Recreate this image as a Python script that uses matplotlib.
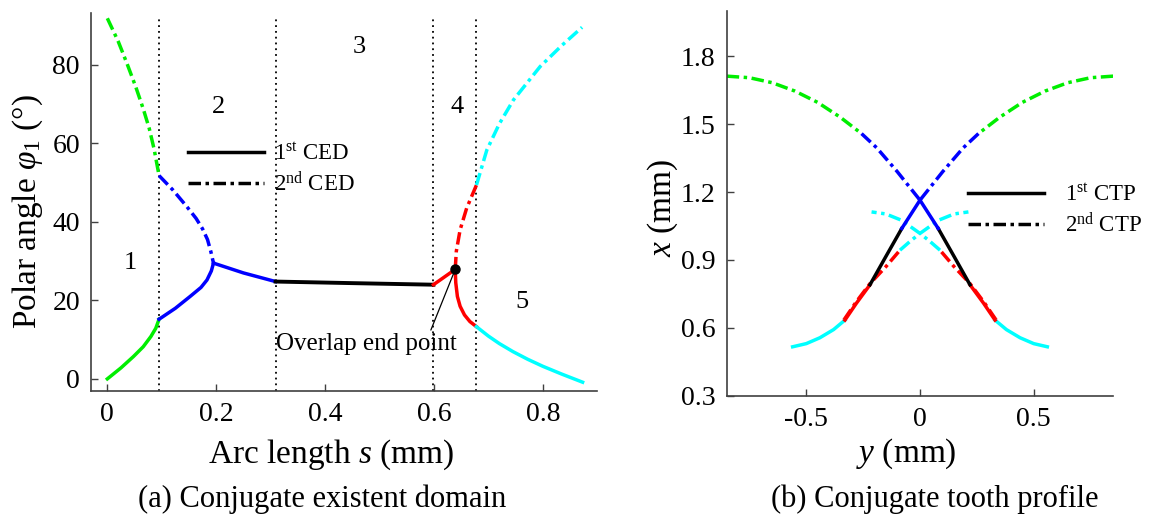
import numpy as np
import matplotlib
matplotlib.use('Agg')
import matplotlib.pyplot as plt
from matplotlib.lines import Line2D

plt.rcParams['font.family'] = 'Liberation Serif'
plt.rcParams['mathtext.fontset'] = 'custom'
plt.rcParams['mathtext.rm'] = 'Liberation Serif'
plt.rcParams['mathtext.it'] = 'Liberation Serif:italic'
plt.rcParams['mathtext.bf'] = 'Liberation Serif:bold'
plt.rcParams['axes.unicode_minus'] = False

# ---- (a) conjugate existent domain: arc length s (mm) vs polar angle phi1 (deg)
green_d_s = [0.0, 0.02, 0.036, 0.052, 0.066, 0.077, 0.086, 0.095]
green_d_phi = [91.9, 86.0, 80.4, 74.5, 68.8, 63.8, 58.5, 51.8]
green_s_s = [0.0, 0.025, 0.048, 0.066, 0.080, 0.089, 0.095]
green_s_phi = [0.0, 2.8, 5.7, 8.2, 10.8, 12.9, 15.2]
blue_d_s = [0.095, 0.12, 0.146, 0.163, 0.175, 0.184, 0.190, 0.195]
blue_d_phi = [51.8, 48.2, 43.9, 40.9, 38.2, 35.5, 32.5, 29.5]
blue_s_lo_s = [0.095, 0.125, 0.152, 0.172, 0.183, 0.191, 0.195]
blue_s_lo_phi = [15.2, 18.0, 21.0, 23.3, 25.2, 27.5, 29.5]
blue_s_hi_s = [0.195, 0.25, 0.309]
blue_s_hi_phi = [29.5, 27.0, 24.8]
black_s = [0.309, 0.45, 0.599]
black_phi = [24.8, 24.4, 24.0]
red_s1_s = [0.599, 0.639]
red_s1_phi = [24.0, 27.9]
red_s2_s = [0.639, 0.640, 0.643, 0.648, 0.656, 0.666, 0.678]
red_s2_phi = [27.9, 24.5, 21.0, 18.5, 16.3, 14.6, 13.3]
red_d_s = [0.639, 0.641, 0.648, 0.660, 0.678]
red_d_phi = [27.9, 32.5, 38.0, 43.5, 49.4]
cyan_d_s = [0.678, 0.697, 0.72, 0.746, 0.795, 0.835, 0.872]
cyan_d_phi = [49.4, 58.3, 65.0, 71.1, 79.6, 85.0, 89.6]
cyan_s_s = [0.678, 0.70, 0.72, 0.745, 0.772, 0.80, 0.835, 0.873]
cyan_s_phi = [13.3, 10.9, 9.0, 6.95, 5.0, 3.2, 1.2, -0.85]
dividers = [0.095, 0.309, 0.599, 0.678]
overlap_end = (0.639, 27.9)
regions = ['1', '2', '3', '4', '5']
region_s = [0.042, 0.204, 0.462, 0.642, 0.761]
region_phi = [29.5, 69.4, 84.7, 69.4, 19.7]

# ---- (b) conjugate tooth profile, left half (y < 0); right half is its mirror
g_d_y = [-0.85, -0.75, -0.65, -0.55, -0.45, -0.35, -0.257]
g_d_x = [1.712, 1.705, 1.683, 1.646, 1.596, 1.53, 1.458]
b_d_y = [-0.257, -0.19, -0.1, 0.0]
b_d_x = [1.458, 1.395, 1.29, 1.164]
b_s_y = [-0.08, 0.0]
b_s_x = [1.039, 1.164]
k_s_y = [-0.22, -0.15, -0.08]
k_s_x = [0.79, 0.915, 1.039]
r_s_y = [-0.33, -0.28, -0.22]
r_s_x = [0.634, 0.708, 0.79]
c_s_y = [-0.56, -0.5, -0.44, -0.38, -0.33]
c_s_x = [0.516, 0.53, 0.556, 0.592, 0.634]
r_d_y = [-0.335, -0.28, -0.22, -0.15, -0.088]
r_d_x = [0.634, 0.715, 0.795, 0.87, 0.943]
c_d_y = [-0.088, -0.04, 0.0, 0.081, 0.15, 0.213]
c_d_x = [0.943, 0.985, 1.017, 1.075, 1.103, 1.112]

dashdot = (0, (3.6, 1.3, 1.0, 1.3))
LW = 2.5
GREEN, BLUE, RED, CYAN = '#00ee00', '#0000ff', '#ff0000', '#00ffff'
SPINE = '#404040'


def style_axes(ax):
    for side in ['top', 'right']:
        ax.spines[side].set_visible(False)
    for side in ['left', 'bottom']:
        ax.spines[side].set_color(SPINE)
        ax.spines[side].set_linewidth(1.2)
    ax.tick_params(direction='in', length=5, width=1, color=SPINE,
                   labelsize=20, pad=8)


def plot_domain(ax):
    for x in dividers:
        ax.plot([x, x], [-3, 92], color='k', lw=1.3, ls=(0, (1, 2.2)))
    ax.plot(green_d_s, green_d_phi, color=GREEN, lw=LW, ls=dashdot)
    ax.plot(green_s_s, green_s_phi, color=GREEN, lw=LW)
    ax.plot(blue_d_s, blue_d_phi, color=BLUE, lw=LW, ls=dashdot)
    ax.plot(blue_s_lo_s, blue_s_lo_phi, color=BLUE, lw=LW)
    ax.plot(blue_s_hi_s, blue_s_hi_phi, color=BLUE, lw=LW)
    ax.plot(black_s, black_phi, color='k', lw=LW + 0.3)
    ax.plot(red_s1_s, red_s1_phi, color=RED, lw=LW)
    ax.plot(red_s2_s, red_s2_phi, color=RED, lw=LW)
    ax.plot(red_d_s, red_d_phi, color=RED, lw=LW, ls=dashdot)
    ax.plot(cyan_d_s, cyan_d_phi, color=CYAN, lw=LW, ls=dashdot)
    ax.plot(cyan_s_s, cyan_s_phi, color=CYAN, lw=LW)
    ax.plot(*overlap_end, 'o', color='k', ms=6.5, zorder=5)
    ax.annotate('Overlap end point', xy=overlap_end, xytext=(0.31, 7.4),
                fontsize=18, va='baseline', ha='left',
                arrowprops=dict(arrowstyle='-', color='k', lw=0.9,
                                shrinkA=0, shrinkB=0,
                                relpos=(0.85, 1.0)))
    for lbl, s, p in zip(regions, region_s, region_phi):
        ax.text(s, p, lbl, fontsize=19, ha='center', va='center')

    handles = [Line2D([], [], color='k', lw=LW),
               Line2D([], [], color='k', lw=LW, ls=dashdot)]
    ax.legend(handles, [r'1$^{\mathrm{st}}$ CED', r'2$^{\mathrm{nd}}$ CED'],
              loc='center left', bbox_to_anchor=(0.192, 0.585),
              frameon=False, fontsize=16.5, handlelength=3.3,
              handletextpad=0.45, labelspacing=0.3, borderpad=0,
              borderaxespad=0)

    ax.set_xlim(-0.03, 0.90)
    ax.set_ylim(-3.1, 93.2)
    ax.set_xticks([0, 0.2, 0.4, 0.6, 0.8])
    ax.set_xticklabels(['0', '0.2', '0.4', '0.6', '0.8'])
    ax.set_yticks([0, 20, 40, 60, 80])
    style_axes(ax)


def plot_profile(ax):
    # dashed (2nd CTP) first, solid (1st CTP) on top
    for sgn in [1, -1]:
        ax.plot(sgn * np.array(c_d_y), c_d_x, color=CYAN, lw=LW, ls=dashdot)
        ax.plot(sgn * np.array(r_d_y), r_d_x, color=RED, lw=LW, ls=dashdot)
        ax.plot(sgn * np.array(g_d_y), g_d_x, color=GREEN, lw=LW, ls=dashdot)
    for sgn in [1, -1]:
        ax.plot(sgn * np.array(c_s_y), c_s_x, color=CYAN, lw=LW)
        ax.plot(sgn * np.array(r_s_y), r_s_x, color=RED, lw=LW)
        ax.plot(sgn * np.array(k_s_y), k_s_x, color='k', lw=LW)
        ax.plot(sgn * np.array(b_s_y), b_s_x, color=BLUE, lw=LW)
    for sgn in [1, -1]:
        ax.plot(sgn * np.array(b_d_y), b_d_x, color=BLUE, lw=LW, ls=dashdot)

    handles = [Line2D([], [], color='k', lw=LW),
               Line2D([], [], color='k', lw=LW, ls=dashdot)]
    ax.legend(handles, [r'1$^{\mathrm{st}}$ CTP', r'2$^{\mathrm{nd}}$ CTP'],
              loc='center left', bbox_to_anchor=(0.625, 0.481),
              frameon=False, fontsize=16.5, handlelength=3.3,
              handletextpad=0.9, labelspacing=0.3, borderpad=0,
              borderaxespad=0)

    ax.set_xlim(-0.85, 0.85)
    ax.set_ylim(0.3, 2.0)
    ax.set_xticks([-0.5, 0, 0.5])
    ax.set_xticklabels(['-0.5', '0', '0.5'])
    ax.set_yticks([0.3, 0.6, 0.9, 1.2, 1.5, 1.8])
    ax.set_yticklabels(['0.3', '0.6', '0.9', '1.2', '1.5', '1.8'])
    style_axes(ax)


fig = plt.figure(figsize=(11.52, 5.27), dpi=100)
ax1 = fig.add_axes([0.079, 0.258, 0.4395, 0.717])
ax2 = fig.add_axes([0.6308, 0.2492, 0.3356, 0.730])
plot_domain(ax1)
plot_profile(ax2)

fig.text(0.2878, 1 - 463 / 527, r'Arc length $s$ (mm)', fontsize=24,
         ha='center', va='baseline')
fig.text(28 / 1152, 1 - 212 / 527, r'Polar angle $\varphi_1$ (°)',
         fontsize=24, ha='center', va='center', rotation=90)
fig.text(906 / 1152, 1 - 462 / 527, r'$y$ (mm)', fontsize=24,
         ha='center', va='baseline')
fig.text(663 / 1152, 1 - 208 / 527, r'$x$ (mm)', fontsize=24,
         ha='center', va='center', rotation=90)
fig.text(322 / 1152, 1 - 507 / 527, '(a) Conjugate existent domain',
         fontsize=22, ha='center', va='baseline')
fig.text(935 / 1152, 1 - 507 / 527, '(b) Conjugate tooth profile',
         fontsize=22, ha='center', va='baseline')

fig.savefig('out.png', dpi=100)
plt.close(fig)
